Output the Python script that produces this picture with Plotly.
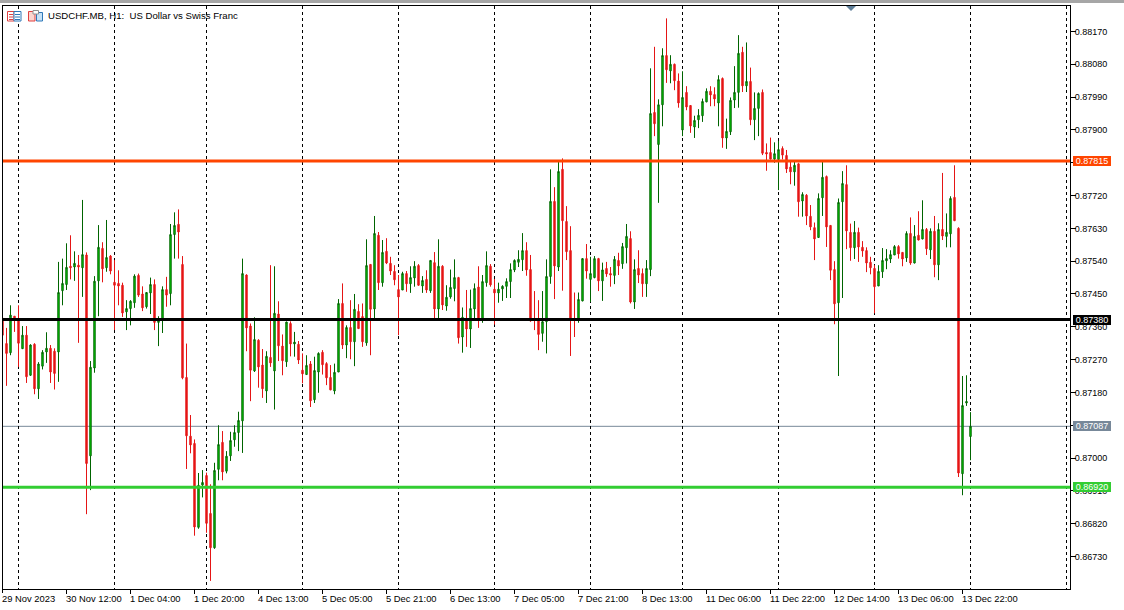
import plotly.graph_objects as go

# Prices in points (1e-5), hourly USDCHF candles
open_pts = [
87384,87314,87289,87389,87378,87300,87337,87227,87312,87190,
87252,87291,87301,87293,87291,87459,87476,87526,87524,87529,
87522,87557,87006,87247,87486,87575,87522,87554,87482,87479,
87474,87401,87410,87426,87501,87450,87415,87453,87476,87372,
87378,87462,87451,87613,87641,87531,87221,87060,87040,86810,
86926,86952,86848,86754,86969,87043,86964,87006,87050,87070,
87102,87502,87362,87239,87323,87255,87184,87276,87239,87395,
87307,87264,87369,87313,87312,87241,87229,87258,87160,87236,
87290,87259,87221,87184,87236,87424,87310,87358,87319,87402,
87388,87316,87531,87409,87611,87481,87567,87534,87512,87462,
87461,87506,87478,87494,87528,87472,87490,87459,87536,87409,
87526,87417,87442,87465,87495,87332,87376,87354,87409,87469,
87380,87481,87526,87463,87453,87464,87471,87484,87516,87537,
87544,87569,87517,87381,87376,87342,87374,87498,87704,87524,
87792,87649,87569,87382,87380,87431,87547,87490,87495,87547,
87486,87520,87506,87501,87542,87533,87577,87602,87428,87520,
87506,87478,87517,87948,87860,87969,88104,88062,88080,88034,
87900,88003,87967,87908,87928,87939,87977,88006,87997,87974,
88041,87878,87895,87982,88003,88113,88021,88033,87928,87959,
88003,87838,87838,87820,87819,87849,87830,87798,87785,87807,
87705,87721,87663,87632,87605,87714,87772,87638,87517,87426,
87703,87750,87619,87577,87619,87578,87569,87537,87520,87472,
87511,87541,87546,87557,87580,87564,87549,87616,87535,87611,
87601,87627,87571,87622,87530,87627,87608,87615,87715,87630,86957,87151,87059]

close_pts = [
87337,87287,87392,87378,87315,87337,87223,87310,87190,87258,
87290,87301,87236,87232,87454,87479,87523,87522,87534,87524,
87558,86985,87249,87485,87578,87519,87550,87513,87474,87472,
87398,87410,87430,87499,87447,87412,87454,87476,87372,87378,
87462,87447,87613,87638,87620,87220,87061,87036,86811,86925,
86933,86821,86754,86966,87037,86962,87005,87048,87070,87103,
87506,87357,87241,87325,87250,87190,87279,87261,87397,87308,
87267,87373,87313,87318,87269,87231,87254,87157,87240,87287,
87256,87220,87187,87235,87424,87310,87358,87319,87408,87355,
87319,87528,87408,87616,87481,87564,87535,87513,87489,87442,
87506,87478,87495,87526,87474,87487,87461,87542,87409,87526,
87420,87441,87468,87495,87330,87386,87354,87410,87465,87378,
87484,87528,87475,87453,87463,87471,87484,87517,87542,87545,
87569,87516,87376,87378,87339,87374,87498,87704,87527,87786,
87651,87566,87380,87378,87435,87547,87513,87506,87547,87486,
87516,87505,87502,87545,87527,87580,87608,87428,87517,87502,
87478,87520,87945,87917,87969,88104,88065,88080,88035,87974,
87989,87963,87911,87926,87940,87978,88006,87996,87985,88038,
87878,87896,87981,88003,88110,88021,88033,87928,87959,88000,
87836,87834,87820,87835,87846,87831,87793,87785,87803,87703,
87723,87664,87634,87601,87712,87770,87634,87515,87423,87701,
87753,87623,87577,87619,87579,87568,87535,87522,87470,87512,
87542,87547,87558,87580,87560,87546,87616,87535,87608,87598,
87627,87574,87622,87530,87627,87609,87619,87712,87651,86959,87144,87155,87087]

high_pts = [
87447,87357,87419,87389,87419,87362,87362,87312,87315,87263,
87296,87345,87310,87301,87538,87547,87589,87611,87567,87557,
87708,87564,87266,87499,87639,87592,87653,87557,87543,87515,
87481,87433,87433,87504,87506,87471,87454,87495,87490,87389,
87471,87497,87642,87674,87682,87554,87314,87118,87051,86959,
86967,86960,86928,86987,87090,87074,87019,87072,87090,87127,
87547,87504,87369,87386,87326,87299,87293,87529,87526,87430,
87339,87374,87375,87346,87321,87287,87282,87266,87278,87290,
87296,87263,87255,87259,87436,87479,87364,87433,87450,87422,
87424,87600,87532,87664,87620,87598,87603,87552,87529,87502,
87511,87513,87526,87540,87532,87499,87515,87543,87565,87600,
87529,87474,87517,87545,87497,87413,87461,87462,87479,87526,
87502,87567,87532,87491,87481,87474,87493,87534,87545,87570,
87617,87592,87557,87458,87433,87458,87545,87792,87743,87812,
87822,87691,87636,87454,87454,87548,87587,87552,87554,87549,
87536,87538,87524,87554,87563,87590,87642,87622,87545,87570,
87520,87543,88069,88128,87984,88124,88206,88105,88082,88055,
88061,88020,87967,87939,87957,87986,88014,88020,88017,88050,
88044,87931,87989,88075,88160,88128,88140,88071,88003,88003,
88011,87863,87879,87866,87870,87855,87845,87817,87812,87810,
87729,87724,87694,87646,87726,87812,87775,87639,87540,87712,
87787,87803,87643,87650,87632,87595,87578,87552,87529,87529,
87576,87573,87570,87584,87584,87564,87622,87660,87639,87677,
87707,87631,87630,87664,87644,87782,87671,87718,87803,87633,87225,87227,87126]

low_pts = [
87315,87198,87282,87346,87250,87299,87206,87225,87175,87162,
87243,87261,87206,87188,87209,87419,87461,87490,87486,87316,
87442,86846,86912,87234,87389,87482,87511,87504,87351,87419,
87387,87351,87364,87412,87442,87403,87410,87395,87351,87307,
87343,87415,87419,87547,87547,87216,86970,87013,86787,86806,
86892,86795,86663,86751,86939,86939,86958,86992,87031,87019,
87014,87293,87156,87236,87193,87165,87151,87250,87133,87266,
87227,87250,87279,87278,87258,87205,87229,87140,87151,87179,
87229,87200,87186,87175,87236,87299,87274,87271,87252,87354,
87305,87308,87282,87378,87461,87470,87532,87502,87474,87337,
87461,87456,87453,87470,87472,87453,87453,87453,87383,87383,
87406,87404,87437,87430,87314,87289,87305,87302,87378,87357,
87371,87470,87470,87366,87426,87431,87439,87439,87510,87524,
87513,87500,87374,87351,87296,87319,87287,87478,87436,87513,
87459,87543,87280,87332,87371,87430,87492,87428,87493,87458,
87431,87497,87470,87477,87502,87519,87534,87424,87409,87480,
87442,87442,87499,87883,87700,87910,88029,88028,88009,87961,
87883,87954,87892,87878,87905,87922,87976,87965,87965,87910,
87851,87848,87886,87960,87961,88004,88004,87913,87872,87883,
87831,87788,87819,87810,87735,87819,87782,87751,87747,87662,
87662,87639,87625,87543,87605,87664,87579,87488,87367,87225,
87439,87573,87541,87546,87538,87552,87510,87504,87397,87472,
87494,87518,87535,87557,87547,87526,87538,87530,87534,87597,
87600,87557,87546,87496,87488,87598,87578,87578,87650,86948,86898,87143,86994]

bar_index = list(range(len(open_pts)))

x_tick_bars = [0,16,32,48,64,80,96,112,128,144,160,176,192,208,224,240]
x_tick_labels = ["29 Nov 2023","30 Nov 12:00","1 Dec 04:00","1 Dec 20:00","4 Dec 13:00",
                 "5 Dec 05:00","5 Dec 21:00","6 Dec 13:00","7 Dec 05:00","7 Dec 21:00",
                 "8 Dec 13:00","11 Dec 06:00","11 Dec 22:00","12 Dec 14:00","13 Dec 06:00","13 Dec 22:00"]
grid_bars = [4,28,51,75,99,123,147,170,194,218,242,266]
y_ticks = [0.88170,0.88080,0.87990,0.87900,0.87810,0.87720,0.87630,0.87540,0.87450,
           0.87360,0.87270,0.87180,0.87090,0.87000,0.86910,0.86820,0.86730]
y_hidden = [0.87810, 0.87090]   # fully covered by level tags in the reference

level_prices = [0.87815, 0.87380, 0.87087, 0.86920]
level_colors = ["#ff4500", "#000000", "#778899", "#32cd32"]
level_widths = [3, 3, 1, 3]
level_layers = ["above", "above", "below", "above"]

FONT = "Liberation Sans"
W, H = 1124, 610
L, R, T, B = 3, 1070, 6, 589

def px(x):
    return (x - L) / (R - L)

def py(y):
    return (B - y) / (B - T)

def scale(v):
    return [p / 100000 for p in v]

def bar_at(x):
    return (x - 2.5) / 4

def price_at(y):
    return (88256.4 - 2.743 * y) / 1e5

fig = go.Figure(go.Candlestick(
    x=bar_index, open=scale(open_pts), high=scale(high_pts), low=scale(low_pts), close=scale(close_pts),
    whiskerwidth=0,
    increasing=dict(line=dict(color="#006400", width=1), fillcolor="#00e600"),
    decreasing=dict(line=dict(color="#e51515", width=1), fillcolor="#e51515"),
))

shapes = []
for p, c, w, lay in zip(level_prices, level_colors, level_widths, level_layers):
    shapes.append(dict(type="line", xref="paper", x0=0, x1=1, yref="y", y0=p, y1=p,
                       line=dict(color=c, width=w), layer=lay))

def rect(x0, y0, x1, y1, fill, line=None, width=1):
    shapes.append(dict(type="rect", xref="paper", yref="paper",
                       x0=px(x0), x1=px(x1), y0=py(y0), y1=py(y1),
                       fillcolor=fill, line=dict(color=line or fill, width=width if line else 0)))

# window chrome at the very top
rect(-3, 0, 1127, 3, "#a6a6a6")
# "objects list" icon
rect(7.5, 11.5, 14, 21, "#ffffff", "#e04040")
rect(14, 11.5, 21, 21, "#ffffff", "#2f78b8")
for yy in (14, 16.5, 19):
    rect(9, yy, 13, yy + 1, "#e04040")
    rect(15, yy, 20, yy + 1, "#2f78b8")
# "templates" icon
rect(28.5, 11.5, 35, 21, "#fbd5cf", "#e04040")
rect(36.5, 12.5, 42.5, 21, "#c6e2f7", "#2f78b8")
rect(33, 10.5, 38.5, 14, "#ffffff", "#909090")
# small marker triangle hanging from the top border
tx0, tx1, tx_m, ty0, ty1 = px(846), px(856), px(851), py(6), py(11)
shapes.append(dict(type="path", xref="paper", yref="paper",
                   path=f"M {tx0} {ty0} L {tx1} {ty0} L {tx_m} {ty1} Z",
                   fillcolor="#5f7f99", line=dict(width=0)))
# tick of the first label sits on the left border, just outside the visible bar range
shapes.append(dict(type="line", xref="paper", yref="paper", x0=px(2.5), x1=px(2.5), y0=py(589), y1=py(593),
                   line=dict(color="#000000", width=1)))

annotations = []
for i, (bar, label) in enumerate(zip(x_tick_bars, x_tick_labels)):
    annotations.append(dict(x=px(2.5 + 4 * bar), xref="paper", y=py(598), yref="paper", text=label,
                            showarrow=False, xanchor="left", yanchor="middle", xshift=-3,
                            font=dict(family=FONT, size=9.4, color="#000000")))
annotations.append(dict(x=px(46), xref="paper", y=py(16), yref="paper",
                        text="USDCHF.MB, H1:  US Dollar vs Swiss Franc", showarrow=False,
                        xanchor="left", yanchor="middle",
                        font=dict(family=FONT, size=9.6, color="#000000")))
for p, c in zip(level_prices, level_colors):
    annotations.append(dict(x=px(1073), xref="paper", y=p, yref="y", text=f"{p:.5f}", showarrow=False,
                            xanchor="left", yanchor="middle", width=38, height=10, align="center",
                            bgcolor=c, borderpad=0, borderwidth=0,
                            font=dict(family=FONT, size=9, color="#ffffff")))

fig.update_layout(
    width=W, height=H, showlegend=False, paper_bgcolor="#ffffff", plot_bgcolor="#ffffff",
    margin=dict(l=L, r=W - R, t=T, b=H - B, pad=0),
    boxgap=0.5,
    shapes=shapes, annotations=annotations,
    xaxis=dict(range=[bar_at(L), bar_at(R)], rangeslider=dict(visible=False),
               tickmode="array", tickvals=x_tick_bars, ticktext=[""] * len(x_tick_bars),
               ticks="outside", ticklen=4, tickcolor="#000000", tickwidth=1,
               showgrid=False, zeroline=False,
               showline=True, linecolor="#000000", linewidth=1, mirror=True,
               minor=dict(tickmode="array", tickvals=grid_bars, showgrid=True, gridcolor="#000000",
                          gridwidth=1, griddash="3px,3px", ticks="")),
    yaxis=dict(side="right", range=[price_at(B), price_at(T)],
               tickmode="array", tickvals=y_ticks,
               ticktext=["" if v in y_hidden else f"{v:.5f}" for v in y_ticks],
               ticks="outside", ticklen=5, tickcolor="#000000", tickwidth=1, ticklabelstandoff=-3,
               tickfont=dict(family=FONT, size=9, color="#000000"),
               showgrid=False, zeroline=False,
               showline=True, linecolor="#000000", linewidth=1, mirror=True),
)

fig.write_html("out.html", config=dict(displayModeBar=False),
               post_script="document.body.style.margin='0';")
